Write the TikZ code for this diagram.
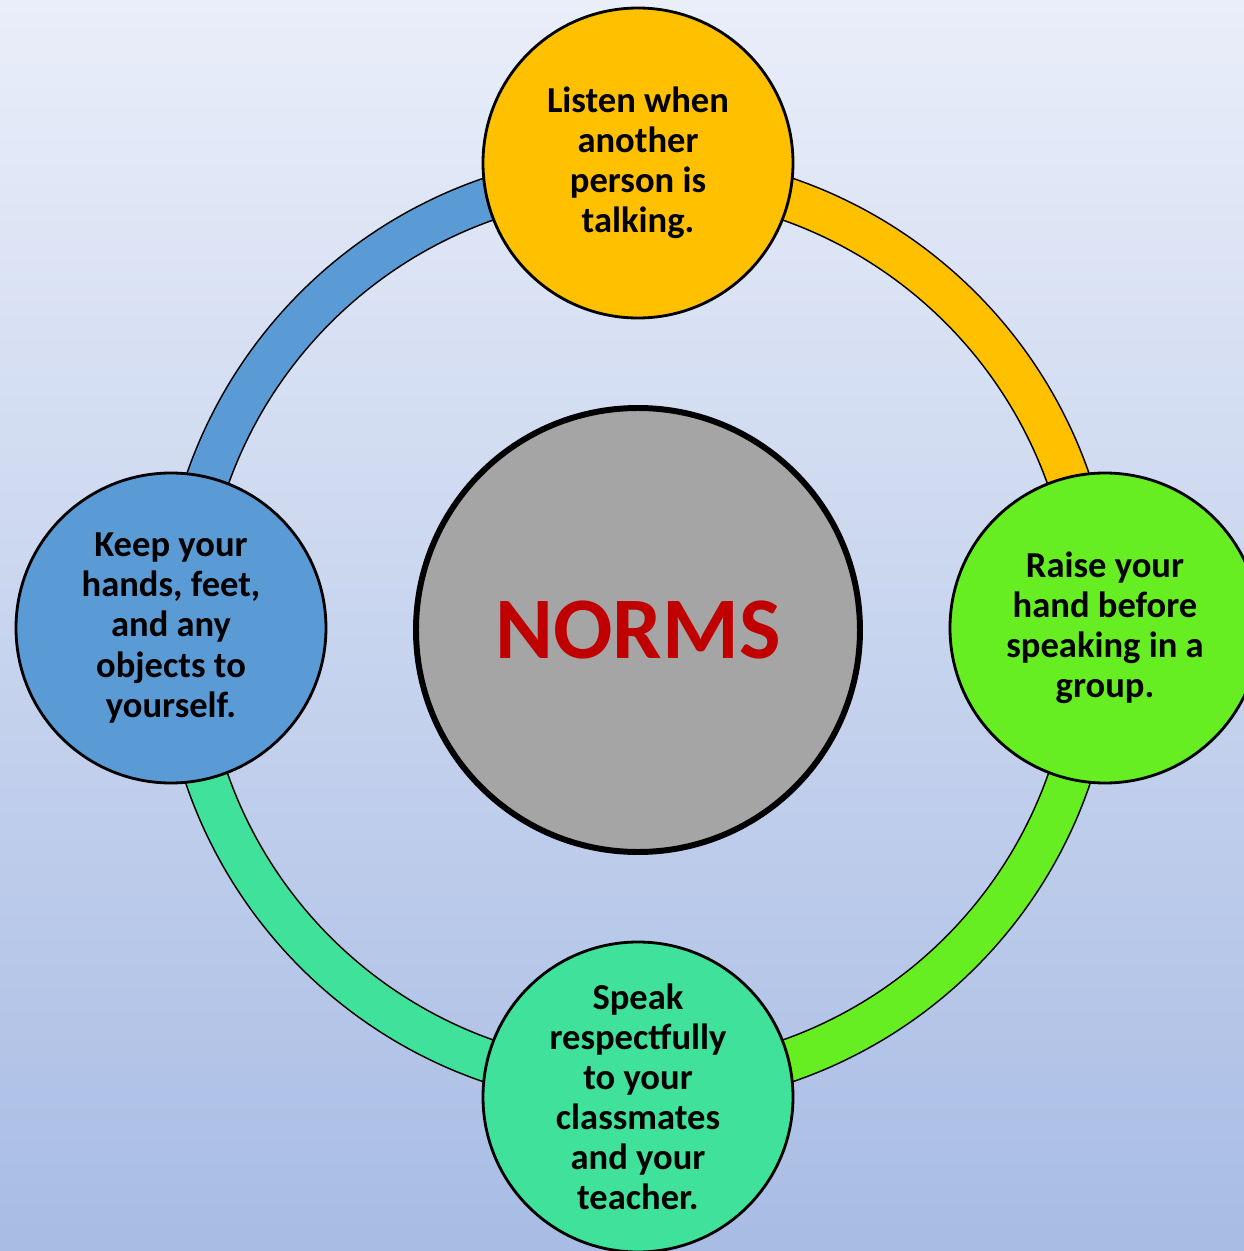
\documentclass[tikz,border=0pt]{standalone}
\usepackage{fontspec}
\setmainfont{Carlito}
\usetikzlibrary{positioning}

\definecolor{normorange}{HTML}{FFC000}
\definecolor{normgreen}{HTML}{66EE22}
\definecolor{normteal}{HTML}{40E29B}
\definecolor{normblue}{HTML}{5B9BD5}
\definecolor{normgrey}{HTML}{A5A5A5}
\definecolor{normred}{HTML}{C00000}
\definecolor{bgtop}{HTML}{E9EEF9}
\definecolor{bgbottom}{HTML}{A8BCE4}

\tikzstyle{bubble} = [circle, draw, line width=1.6pt, inner sep=0mm, minimum size=6.2cm,
	align=center, font=\fontsize{20.8}{22.8}\selectfont\bfseries]
\tikzstyle{hubdisc} = [circle, draw, line width=3.4pt, fill=normgrey, inner sep=0mm,
	minimum size=8.88cm, text=normred, font=\fontsize{50}{55}\selectfont\bfseries]
\tikzstyle{ring} = [line width=0.9pt, draw=black, double distance=0.82cm]

\begin{document}
\begin{tikzpicture}
		\useasboundingbox (-12.76, -12.42) rectangle (12.12, 12.6);
		\clip (-12.76, -12.42) rectangle (12.12, 12.6);
		\fill[top color=bgtop, bottom color=bgbottom] (-12.76, -12.42) rectangle (12.12, 12.6);
		%\draw[help lines] (-12,-12) grid (12,12);
		
		\coordinate (hub) at (0, 0);
		
		% ring pieces, each one in the colour of the circle where it starts
		\foreach \a/\c in {90/normorange, 0/normgreen, -90/normteal, -180/normblue}
		\draw[ring, double=\c] (hub) ++(\a:9.12) arc[start angle=\a, end angle=\a-90, radius=9.12];
		
		\node[hubdisc] (norms) at (hub) {NORMS};
		
		\node[bubble, fill=normorange] (listen) at (0, 9.34)
			{Listen when\\another\\person is\\talking.};
		\node[bubble, fill=normgreen] (raise) at (9.34, 0.04)
			{Raise your\\hand before\\speaking in a\\group.};
		\node[bubble, fill=normteal] (speak) at (0, -9.34)
			{Speak\\respectfully\\to your\\classmates\\and your\\teacher.};
		\node[bubble, fill=normblue] (keep) at (-9.34, 0.04)
			{Keep your\\hands, feet,\\and any\\objects to\\yourself.};
		
	\end{tikzpicture}
\end{document}
